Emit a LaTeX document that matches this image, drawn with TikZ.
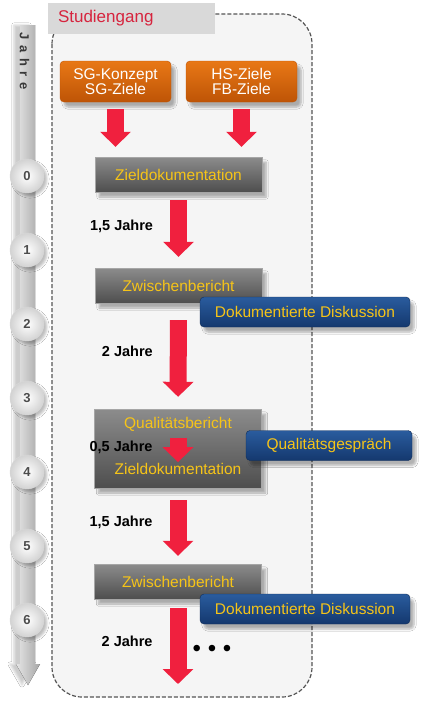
\documentclass[tikz,border=0pt]{standalone}
\usepackage{fontspec}
\setmainfont{Liberation Sans}
\usetikzlibrary{arrows.meta,shadows.blur,positioning}

\definecolor{rot}{RGB}{240,32,62}
\definecolor{titelrot}{RGB}{214,36,62}
\definecolor{gold}{RGB}{246,196,24}
\definecolor{orangeoben}{RGB}{232,120,22}
\definecolor{orangeunten}{RGB}{190,84,6}
\definecolor{blauoben}{RGB}{42,92,158}
\definecolor{blauunten}{RGB}{20,56,110}
\definecolor{grauoben}{RGB}{140,140,140}
\definecolor{grauunten}{RGB}{78,78,78}
\definecolor{kopfgrau}{RGB}{217,217,217}
\definecolor{rahmengrau}{RGB}{85,85,85}

\newcommand{\schrift}[1]{\fontsize{#1pt}{#1pt}\selectfont}

\tikzset{
  schatten/.style={blur shadow={shadow xshift=4pt, shadow yshift=-5pt, shadow opacity=30, shadow blur steps=6}},
  ziel/.style={rounded corners=4pt, top color=orangeoben, bottom color=orangeunten, draw=orangeunten,
    text=white, minimum width=111pt, minimum height=41pt, align=center, font=\schrift{15.5}, schatten},
  bericht/.style={top color=grauoben, bottom color=grauunten, draw=gray!70, minimum width=167pt,
    minimum height=35pt, text=gold, font=\schrift{15.5}, schatten},
  berichttext/.style={text=gold, font=\schrift{15.5}, inner sep=0pt},
  diskussion/.style={rounded corners=4pt, top color=blauoben, bottom color=blauunten, draw=blauunten!80!black,
    minimum height=30pt, text=gold, font=\schrift{15.5}, schatten},
  pfeil/.style={color=rot, line width=17pt, -{Triangle[width=30pt,length=15pt]}},
  jahr/.style={left=17pt, inner sep=0pt, text=black, font=\bfseries\schrift{14.5}},
  jahrkreis/.style={circle, inner color=white, outer color=gray!35, draw=gray!30, minimum size=34pt,
    inner sep=0pt, text=gray!60!black, font=\bfseries\schrift{13},
    blur shadow={shadow xshift=3pt, shadow yshift=-3pt, shadow opacity=25}}
}

\begin{document}
\begin{tikzpicture}[x=1pt,y=-1pt]
 \useasboundingbox[fill=white] (0,0) rectangle (440,702);

  \fill[left color=gray!20, right color=gray!70, blur shadow={shadow xshift=-6pt, shadow yshift=0pt, shadow opacity=20}]
    (20,25) -- (35,25) -- (35,664) -- (40,664) -- (28,685) -- (16,664) -- (20,664) -- cycle;
  \draw (24.5,61) node[rotate=-90, text=gray!45!black, font=\bfseries\schrift{13}] (jahre) {J\hspace{5.5pt}a\hspace{5.5pt}h\hspace{5.5pt}r\hspace{5.5pt}e};
  \foreach \n in {0,...,6}
    \draw (27,176+74*\n) node[jahrkreis] (k\n) {\n};

  \draw[dashed, dash pattern=on 4pt off 2pt, line width=1.2pt, draw=rahmengrau, fill=gray!8, rounded corners=30pt] (52,14) rectangle (312,697);
  \draw (131.5,18.5) node[fill=kopfgrau, minimum width=167pt, minimum height=31pt, text width=147pt, inner xsep=10pt,
    align=left, text=titelrot, font=\schrift{17}] (kopf) {Studiengang};

   \draw (115.5,81.5) node[ziel] (sg) {SG-Konzept\\SG-Ziele};
   \draw (241.5,81.5) node[ziel] (hs) {HS-Ziele\\FB-Ziele};

    \draw (178.5,174.5) node[bericht] (zd) {Zieldokumentation};
    \draw (178.5,285.5) node[bericht] (zb) {Zwischenbericht};
    \draw (178,448.5) node[bericht, minimum height=79pt] (qz) {};
    \draw (178,424) node[berichttext] (qb) {Qualitätsbericht};
    \draw (178,469) node[berichttext] (zd2) {Zieldokumentation};
    \draw (178,581.5) node[bericht] (zb2) {Zwischenbericht};
    \coordinate (ende) at (178,684);

     \draw[pfeil, shorten <=7pt, shorten >=10pt] (sg.south) -- (sg.south |- zd.north);
     \draw[pfeil, shorten <=7pt, shorten >=10pt] (hs.south) -- (hs.south |- zd.north);
     \draw[pfeil, shorten <=8pt, shorten >=11pt] (zd.south) -- node[jahr, pos=0.45] (j1) {1,5 Jahre} (zb.north);
     \draw[pfeil, shorten <=17pt, shorten >=12pt] (zb.south) -- node[jahr, pos=0.46] (j2) {2 Jahre} (qz.north);
     \draw[pfeil, shorten <=7pt, shorten >=1pt] (qb.south) -- node[jahr, pos=0.5] (j3) {0,5 Jahre} (zd2.north);
     \draw[pfeil, shorten <=12pt, shorten >=8pt] (qz.south) -- node[jahr, pos=0.45] (j4) {1,5 Jahre} (zb2.north);
     \draw[pfeil, shorten <=9pt] (zb2.south) -- node[jahr, pos=0.5] (j5) {2 Jahre} (ende);

    \draw (305,312) node[diskussion, minimum width=210pt] (dd) {Dokumentierte Diskussion};
    \draw (329,445.5) node[diskussion, minimum width=166pt] (qg) {Qualitätsgespräch};
    \draw (305,609) node[diskussion, minimum width=210pt] (dd2) {Dokumentierte Diskussion};

    \draw (212,651) node[font=\schrift{24}] (punkte) {• • •};

\end{tikzpicture}
\end{document}
